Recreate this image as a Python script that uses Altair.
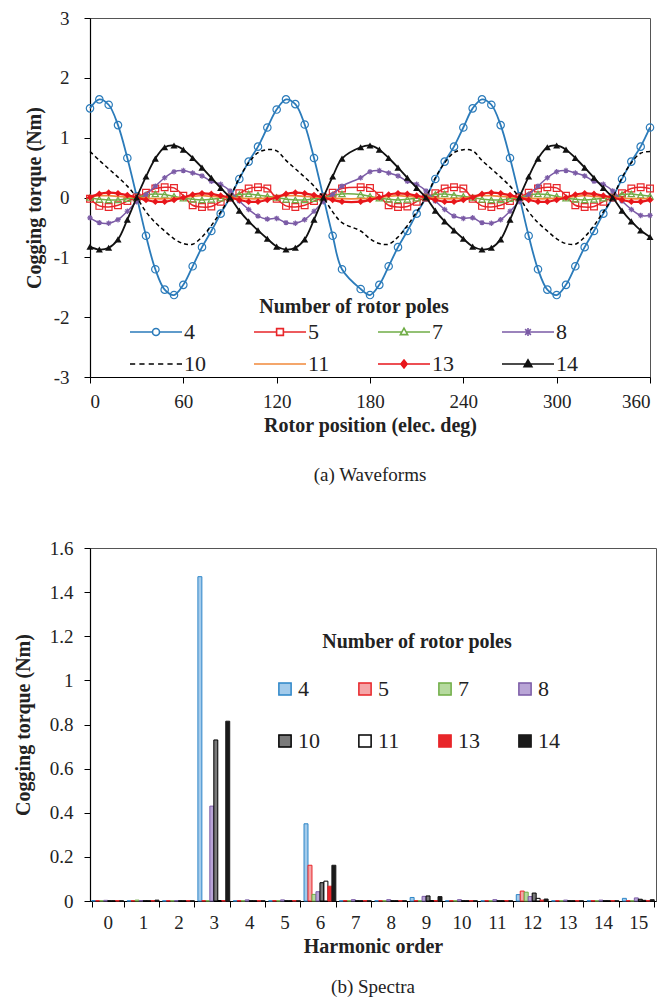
import altair as alt
import pandas as pd

FONT = "Times New Roman, Liberation Serif, serif"

# ---------------- (a) waveforms ----------------
series = ["4", "5", "7", "8", "10", "11", "13", "14"]

angle = [0, 6, 12, 18, 24, 30, 36, 42, 48, 54, 60, 66, 72, 78, 84, 90, 96, 102, 108, 114,
         120, 126, 132, 138, 144, 150, 156, 162,
         174, 180, 186, 192, 198, 204, 210, 216, 222, 228, 234, 240, 246, 252, 258, 264,
         270, 276, 282, 288, 294, 300, 306, 312, 318, 324, 330, 336, 342, 348, 354, 360]

t4 = [1.49, 1.64, 1.55, 1.21, 0.66, 0.02, -0.64, -1.20, -1.54, -1.63, -1.46, -1.15, -0.83, -0.56, -0.27, 0.00, 0.31, 0.60, 0.85, 1.17,
      1.47, 1.64, 1.56, 1.22, 0.66, 0.01, -0.64, -1.20, -1.53, -1.63, -1.46, -1.15, -0.83, -0.56, -0.27, 0.00, 0.31, 0.60, 0.85, 1.17,
      1.49, 1.64, 1.55, 1.21, 0.66, 0.02, -0.64, -1.20, -1.54, -1.63, -1.46, -1.15, -0.83, -0.56, -0.27, 0.00, 0.31, 0.60, 0.85, 1.17]
t5 = [-0.02, -0.14, -0.16, -0.13, -0.06, 0.00, 0.08, 0.15, 0.17, 0.16, 0.03, -0.13, -0.16, -0.15, -0.07, 0.00, 0.07, 0.15, 0.17, 0.15,
      -0.02, -0.14, -0.16, -0.13, -0.06, 0.00, 0.08, 0.15, 0.17, 0.16, 0.03, -0.13, -0.16, -0.15, -0.07, 0.00, 0.07, 0.15, 0.17, 0.15,
      -0.02, -0.14, -0.16, -0.13, -0.06, 0.00, 0.08, 0.15, 0.17, 0.16, 0.03, -0.13, -0.16, -0.15, -0.07, 0.00, 0.07, 0.15, 0.17, 0.15]
t7 = [0.00, -0.03, -0.04, -0.04, -0.02, 0.00, 0.04, 0.06, 0.05, 0.02, -0.01, -0.03, -0.04, -0.03, -0.01, 0.01, 0.05, 0.06, 0.04, 0.02,
      0.00, -0.03, -0.04, -0.04, -0.02, 0.00, 0.04, 0.06, 0.05, 0.02, -0.01, -0.03, -0.04, -0.03, -0.01, 0.01, 0.05, 0.06, 0.04, 0.02,
      0.00, -0.03, -0.04, -0.04, -0.02, 0.00, 0.04, 0.06, 0.05, 0.02, -0.01, -0.03, -0.04, -0.03, -0.01, 0.01, 0.05, 0.06, 0.04, 0.02]
t8 = [-0.34, -0.42, -0.43, -0.37, -0.23, -0.07, 0.05, 0.19, 0.33, 0.43, 0.45, 0.41, 0.36, 0.27, 0.22, 0.11, -0.06, -0.20, -0.31, -0.36,
      -0.35, -0.42, -0.43, -0.37, -0.23, -0.07, 0.05, 0.19, 0.33, 0.43, 0.45, 0.41, 0.36, 0.27, 0.22, 0.11, -0.06, -0.20, -0.31, -0.35,
      -0.34, -0.42, -0.43, -0.37, -0.23, -0.07, 0.05, 0.19, 0.33, 0.43, 0.45, 0.41, 0.36, 0.27, 0.22, 0.11, -0.06, -0.20, -0.30, -0.30]
t10 = [0.77, 0.62, 0.48, 0.34, 0.19, 0.00, -0.24, -0.42, -0.56, -0.69, -0.77, -0.78, -0.66, -0.47, -0.24, 0.00, 0.33, 0.58, 0.75, 0.80,
       0.78, 0.62, 0.48, 0.34, 0.19, 0.00, -0.24, -0.42, -0.56, -0.69, -0.77, -0.78, -0.66, -0.47, -0.24, 0.00, 0.33, 0.58, 0.75, 0.80,
       0.78, 0.62, 0.48, 0.34, 0.19, 0.00, -0.24, -0.42, -0.56, -0.69, -0.77, -0.78, -0.66, -0.47, -0.24, 0.00, 0.33, 0.58, 0.74, 0.77]
t11 = [0.01, 0.03, 0.03, 0.02, 0.01, 0.00, -0.01, -0.02, -0.02, -0.01, 0.00, 0.02, 0.03, 0.02, 0.01, 0.00, -0.01, -0.02, -0.02, -0.01,
       0.01, 0.03, 0.03, 0.02, 0.01, 0.00, -0.01, -0.02, -0.02, -0.01, 0.00, 0.02, 0.03, 0.02, 0.01, 0.00, -0.01, -0.02, -0.02, -0.01,
       0.01, 0.03, 0.03, 0.02, 0.01, 0.00, -0.01, -0.02, -0.02, -0.01, 0.00, 0.02, 0.03, 0.02, 0.01, 0.00, -0.01, -0.02, -0.02, -0.01]
t13 = [0.00, 0.06, 0.08, 0.07, 0.04, 0.00, -0.04, -0.07, -0.07, -0.04, 0.00, 0.05, 0.07, 0.06, 0.03, 0.00, -0.04, -0.07, -0.07, -0.04,
       0.00, 0.06, 0.08, 0.07, 0.04, 0.00, -0.04, -0.07, -0.07, -0.04, 0.00, 0.05, 0.07, 0.06, 0.03, 0.00, -0.04, -0.07, -0.07, -0.04,
       0.00, 0.06, 0.08, 0.07, 0.04, 0.00, -0.04, -0.07, -0.07, -0.04, 0.00, 0.05, 0.07, 0.06, 0.03, 0.00, -0.04, -0.07, -0.07, -0.04]
t14 = [-0.82, -0.87, -0.84, -0.70, -0.37, 0.00, 0.35, 0.65, 0.84, 0.87, 0.80, 0.66, 0.50, 0.33, 0.16, 0.00, -0.22, -0.40, -0.55, -0.69,
       -0.82, -0.87, -0.84, -0.70, -0.37, 0.00, 0.35, 0.65, 0.84, 0.87, 0.80, 0.66, 0.50, 0.33, 0.16, 0.00, -0.22, -0.40, -0.55, -0.69,
       -0.82, -0.87, -0.84, -0.70, -0.37, 0.00, 0.35, 0.65, 0.84, 0.87, 0.80, 0.66, 0.50, 0.33, 0.16, 0.00, -0.22, -0.40, -0.55, -0.66]

wave_values = {"4": t4, "5": t5, "7": t7, "8": t8, "10": t10, "11": t11, "13": t13, "14": t14}

rows = []
for s in series:
    for a, v in zip(angle, wave_values[s]):
        rows.append({"series": s, "angle": a, "torque": v})
wave_df = pd.DataFrame(rows)

line_colors = ["#2B7BBA", "#E8262A", "#70AD47", "#7B5BA6", "#000000", "#F0883A", "#E8161B", "#111111"]
line_dash = {"10": [4, 3]}
line_width = {"4": 1.8, "5": 1.5, "7": 1.5, "8": 1.5, "10": 1.5, "11": 1.8, "13": 2.2, "14": 1.8}

ASTER = "M-1,0L1,0M-0.7,-0.7L0.7,0.7M-0.7,0.7L0.7,-0.7M0,-1L0,1"
markers = {
    "4": dict(shape="circle", size=55, filled=False),
    "5": dict(shape="square", size=45, filled=False),
    "7": dict(shape="triangle-up", size=40, filled=False),
    "8": dict(shape=ASTER, size=30, filled=False),
    "13": dict(shape="diamond", size=45, filled=True),
    "14": dict(shape="triangle-up", size=50, filled=True),
}

legend_paths = [
    "M-1,0L-0.135,0M0.135,0L1,0M-0.135,0A0.135,0.135,0,1,1,0.135,0A0.135,0.135,0,1,1,-0.135,0Z",
    "M-1,0L-0.13,0M0.13,0L1,0M-0.13,-0.13L0.13,-0.13L0.13,0.13L-0.13,0.13Z",
    "M-1,0L-0.08,0M0.08,0L1,0M0,-0.15L0.14,0.1L-0.14,0.1Z",
    "M-1,0L1,0M-0.11,-0.11L0.11,0.11M-0.11,0.11L0.11,-0.11M0,-0.15L0,0.15",
    "M-1,0L-0.8,0M-0.64,0L-0.44,0M-0.28,0L-0.08,0M0.08,0L0.28,0M0.44,0L0.64,0M0.8,0L1,0",
    "M-1,0L1,0",
    "M-1,0L1,0M0,-0.15L0.12,0L0,0.15L-0.12,0Z",
    "M-1,0L1,0M0,-0.16L0.15,0.1L-0.15,0.1Z",
]
legend_fills = ["#ffffff", "#ffffff", "#ffffff", "#ffffff", "transparent", "transparent", "#E8161B", "#111111"]

x_top = alt.X("angle:Q", scale=alt.Scale(domain=[0, 360], nice=False),
              axis=alt.Axis(values=[0, 60, 120, 180, 240, 300, 360], title="Rotor position (elec. deg)",
                            titlePadding=4, labelPadding=9))
y_top = alt.Y("torque:Q", scale=alt.Scale(domain=[-3, 3], nice=False),
              axis=alt.Axis(values=[-3, -2, -1, 0, 1, 2, 3], title="Cogging torque (Nm)",
                            labelExpr="'' + datum.value", labelPadding=15, titlePadding=9))

legend_top = alt.Legend(title="Number of rotor poles", orient="none", legendX=39, legendY=279,
                        columns=4, direction="horizontal", columnPadding=47, rowPadding=10,
                        symbolSize=2704, clipHeight=22,
                        symbolStrokeWidth=1.6, labelFontSize=22, titleFontSize=20,
                        titleFontWeight="bold", titleAnchor="middle", labelOffset=1,
                        titlePadding=4, titleLimit=500, labelFont=FONT, titleFont=FONT,
                        labelColor="#222", titleColor="#222")

legend_layer = alt.Chart(wave_df).transform_filter("false").mark_point(opacity=1).encode(
    x=x_top, y=y_top,
    stroke=alt.Stroke("series:N", scale=alt.Scale(domain=series, range=line_colors), legend=legend_top),
    fill=alt.Fill("series:N", scale=alt.Scale(domain=series, range=legend_fills), legend=legend_top),
    shape=alt.Shape("series:N", scale=alt.Scale(domain=series, range=legend_paths), legend=legend_top),
)

layers = [legend_layer]
for s, c in zip(series, line_colors):
    base = alt.Chart(wave_df).transform_filter(alt.datum.series == s)
    kw = dict(color=c, strokeWidth=line_width[s], interpolate="catmull-rom")
    if s in line_dash:
        kw["strokeDash"] = line_dash[s]
    layers.append(base.mark_line(**kw).encode(x=x_top, y=y_top))
    if s in markers:
        m = markers[s]
        pk = dict(shape=m["shape"], size=m["size"], filled=m["filled"], opacity=1, strokeWidth=1.2)
        if m["filled"]:
            pk["color"] = c
        else:
            pk["stroke"] = c
            pk["fill"] = "transparent"
        layers.append(base.mark_point(**pk).encode(x=x_top, y=y_top))

top = alt.layer(*layers).properties(
    width=560, height=359,
    title=alt.TitleParams("(a) Waveforms", orient="bottom", fontSize=19, fontWeight="normal",
                          font=FONT, color="#222", offset=31),
)

# ---------------- (b) spectra ----------------
harmonics = list(range(16))
h4 = [0.002, 0.001, 0.001, 1.47, 0.001, 0.001, 0.350, 0.001, 0.001, 0.016, 0.001, 0.001, 0.029, 0.001, 0.001, 0.012]
h5 = [0.002, 0.002, 0.002, 0.002, 0.002, 0.002, 0.162, 0.002, 0.002, 0.002, 0.002, 0.002, 0.045, 0.002, 0.002, 0.002]
h7 = [0.001, 0.004, 0.001, 0.001, 0.001, 0.001, 0.030, 0.001, 0.001, 0.001, 0.001, 0.001, 0.040, 0.001, 0.001, 0.001]
h8 = [0.003, 0.002, 0.002, 0.430, 0.005, 0.005, 0.042, 0.006, 0.006, 0.021, 0.006, 0.006, 0.020, 0.004, 0.004, 0.014]
h10 = [0.001, 0.001, 0.001, 0.730, 0.001, 0.001, 0.083, 0.001, 0.001, 0.023, 0.001, 0.001, 0.036, 0.001, 0.001, 0.008]
h11 = [0.001, 0.001, 0.001, 0.002, 0.001, 0.001, 0.090, 0.001, 0.001, 0.002, 0.001, 0.001, 0.012, 0.001, 0.001, 0.003]
h13 = [0.002, 0.002, 0.002, 0.002, 0.002, 0.002, 0.067, 0.002, 0.002, 0.002, 0.002, 0.002, 0.004, 0.002, 0.002, 0.002]
h14 = [0.001, 0.004, 0.001, 0.815, 0.001, 0.001, 0.162, 0.001, 0.001, 0.020, 0.001, 0.001, 0.009, 0.001, 0.001, 0.006]
spec_values = {"4": h4, "5": h5, "7": h7, "8": h8, "10": h10, "11": h11, "13": h13, "14": h14}

srows = []
for s in series:
    for h, v in zip(harmonics, spec_values[s]):
        srows.append({"series": s, "harmonic": h, "torque": v})
spec_df = pd.DataFrame(srows)

bar_fills = ["#A3CBEB", "#F5A6A8", "#B6DA9F", "#B9A5D6", "#7A7A7A", "#FFFFFF", "#E8262A", "#1A1A1A"]
bar_strokes = ["#2E86C8", "#E8262A", "#70AD47", "#7B5BA6", "#000000", "#000000", "#E8262A", "#1A1A1A"]

legend_bot = alt.Legend(title="Number of rotor poles", orient="none", legendX=184, legendY=84,
                        columns=4, direction="horizontal", columnPadding=34, rowPadding=30,
                        symbolSize=150, symbolType="square",
                        symbolStrokeWidth=1.5, labelFontSize=22, titleFontSize=20,
                        titleFontWeight="bold", titleAnchor="middle", labelOffset=2,
                        titlePadding=26, titleLimit=500, labelFont=FONT, titleFont=FONT,
                        labelColor="#222", titleColor="#222")

bottom = alt.Chart(spec_df).mark_bar(strokeWidth=1).encode(
    x=alt.X("harmonic:O", scale=alt.Scale(paddingInner=0.1, paddingOuter=0.05),
            axis=alt.Axis(title="Harmonic order", labelAngle=0, tickBand="extent",
                          labelPadding=6, titlePadding=4)),
    xOffset=alt.XOffset("series:N", scale=alt.Scale(domain=series, paddingInner=0, paddingOuter=0)),
    y=alt.Y("torque:Q", scale=alt.Scale(domain=[0, 1.6], nice=False),
            axis=alt.Axis(values=[0, 0.2, 0.4, 0.6, 0.8, 1.0, 1.2, 1.4, 1.6], format="~g",
                          title="Cogging torque (Nm)", labelPadding=11, titlePadding=16)),
    fill=alt.Fill("series:N", scale=alt.Scale(domain=series, range=bar_fills), legend=legend_bot),
    stroke=alt.Stroke("series:N", scale=alt.Scale(domain=series, range=bar_strokes), legend=legend_bot),
).properties(
    width=566, height=353,
    title=alt.TitleParams("(b) Spectra", orient="bottom", fontSize=19, fontWeight="normal",
                          font=FONT, color="#222", offset=22),
)

chart = alt.concat(top, bottom, columns=1, spacing=52, align="none", bounds="full").resolve_scale(
    fill="independent", stroke="independent", shape="independent"
).resolve_legend(
    fill="independent", stroke="independent", shape="independent"
).properties(
    padding={"left": 12, "top": 8, "right": 4, "bottom": 4}
).configure(background="white").configure_axis(
    labelFont=FONT, titleFont=FONT, labelFontSize=19, titleFontSize=20, titleFontWeight="bold",
    labelColor="#222", titleColor="#222", domainColor="#000", tickColor="#000", tickSize=6,
    domainWidth=1.2, grid=False,
).configure_view(stroke="#555", strokeWidth=1)

chart.save("out.html", embed_options={"renderer": "svg", "actions": False})
